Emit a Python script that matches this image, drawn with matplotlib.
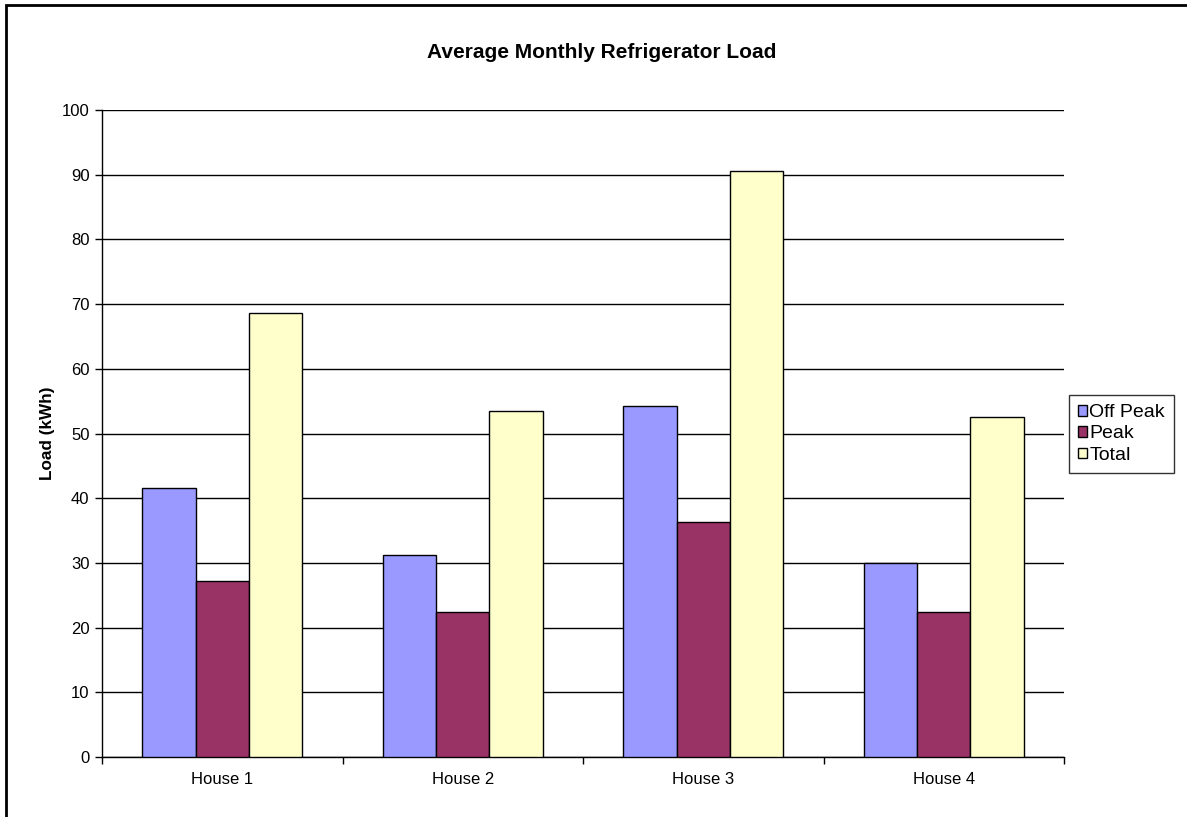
import numpy as np
import matplotlib.pyplot as plt
from matplotlib.patches import Rectangle

plt.rcParams['font.family'] = ['Liberation Sans', 'DejaVu Sans']

# data
houses = ["House 1", "House 2", "House 3", "House 4"]
off_peak = [41.6, 31.2, 54.3, 30.0]
peak = [27.2, 22.4, 36.3, 22.4]
total = [68.7, 53.5, 90.5, 52.6]

series = [("Off Peak", off_peak, "#9999FF"),
          ("Peak", peak, "#993366"),
          ("Total", total, "#FFFFCC")]

fig = plt.figure(figsize=(11.87, 8.17), dpi=100)
ax = fig.add_axes([102/1187, 1 - 757/817, (1064-102)/1187, (757-110)/817])

x = np.arange(len(houses))
w = 2/9  # Excel gap width 150%
for j, (name, vals, col) in enumerate(series):
    ax.bar(x + (j - 1) * w, vals, width=w, color=col, edgecolor="black",
           linewidth=1.0, label=name, zorder=3)

ax.set_xlim(-0.5, len(houses) - 0.5)
ax.set_ylim(0, 100)
ax.set_yticks(np.arange(0, 101, 10))
ax.yaxis.grid(True, color="black", linewidth=1.0, zorder=0)
ax.set_axisbelow(True)

# ticks between categories, labels at centers
ax.set_xticks(np.arange(-0.5, len(houses), 1.0))
ax.set_xticklabels([])
ax.set_xticks(x, minor=True)
ax.set_xticklabels(houses, minor=True, fontsize=12)
ax.tick_params(axis="x", which="major", direction="out", length=5, width=1, color="black")
ax.tick_params(axis="x", which="minor", length=0, pad=11)
ax.tick_params(axis="y", direction="out", length=5, width=1, labelsize=12, pad=4)

for s in ["top", "right"]:
    ax.spines[s].set_visible(False)
for s in ["left", "bottom"]:
    ax.spines[s].set_color("black")
    ax.spines[s].set_linewidth(1.0)

ax.set_ylabel("Load (kWh)", fontsize=12.3, fontweight="bold", labelpad=5)
fig.text(602/1187, 1 - 58/817, "Average Monthly Refrigerator Load",
         ha="center", va="baseline", fontsize=15, fontweight="bold")

leg = ax.legend(loc="center left", bbox_to_anchor=(1069/1187, 1 - 434/817),
                bbox_transform=fig.transFigure, prop={"size": 14}, frameon=True,
                fancybox=False, handlelength=0.45, handleheight=0.45,
                handletextpad=0.15, labelspacing=0.22, borderpad=0.45,
                borderaxespad=0)
leg.get_frame().set_edgecolor("black")
leg.get_frame().set_linewidth(1.0)

# outer chart border
fig.add_artist(Rectangle((6/1187, -0.1), 2, 1.1 - 5/817, transform=fig.transFigure,
                         fill=False, edgecolor="black", linewidth=2))

fig.savefig("out.png", dpi=100)
